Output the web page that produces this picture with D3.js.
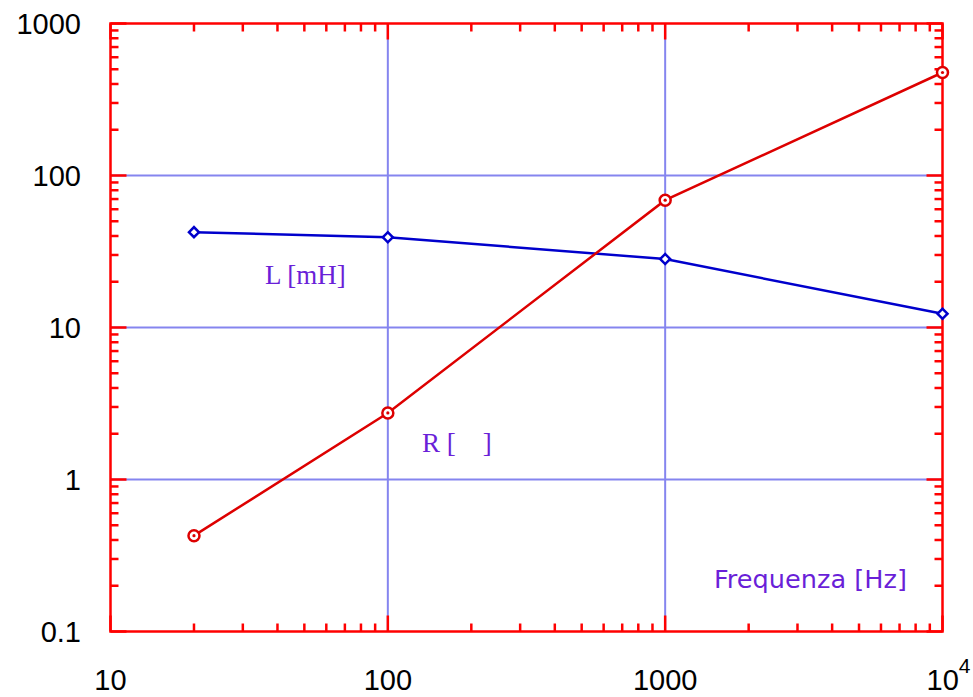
<!DOCTYPE html>
<html>
<head>
<meta charset="utf-8">
<script src="https://cdn.jsdelivr.net/npm/d3@7"></script>
<style>
  body { margin: 0; background: #fff; }
  svg { display: block; }
</style>
</head>
<body>
<svg id="chart" width="973" height="697"></svg>
<script>
// frequenze misurate e valori letti
var freq = [20, 100, 1000, 10000];
var valL = [42.4, 39.3, 28.2, 12.3];   // L [mH]
var valR = [0.427, 2.74, 68.8, 476];   // R [ohm]
var xTicks = [10, 100, 1000, 10000];
var xTickLabels = ["10", "100", "1000", "10^4"];
var yTicks = [0.1, 1, 10, 100, 1000];
var yTickLabels = ["0.1", "1", "10", "100", "1000"];

var svg = d3.select("#chart"),
    pLeft = 110.5, pRight = 942.5, pTop = 23.5, pBottom = 631.5;

var x = d3.scaleLog().domain([10, 10000]).range([pLeft, pRight]);
var y = d3.scaleLog().domain([0.1, 1000]).range([pBottom, pTop]);

var red = "#ff0000", grid = "#8585ef";

// minor ticks for a log scale
function minors(lo, hi) {
    var out = [];
    for (var d = lo; d < hi; d *= 10) {
        for (var k = 2; k <= 9; k++) out.push(d * k);
    }
    return out;
}

// griglia
svg.append("g").selectAll("line").data(xTicks.slice(1, -1)).enter().append("line")
    .attr("x1", d => x(d)).attr("x2", d => x(d))
    .attr("y1", pTop).attr("y2", pBottom)
    .attr("stroke", grid).attr("stroke-width", 2);
svg.append("g").selectAll("line").data(yTicks.slice(1, -1)).enter().append("line")
    .attr("y1", d => y(d)).attr("y2", d => y(d))
    .attr("x1", pLeft).attr("x2", pRight)
    .attr("stroke", grid).attr("stroke-width", 2);

// assi (tick verso l'interno su tutti i lati)
var ax = svg.append("g").attr("stroke", red).attr("stroke-width", 2.5);
var xm = minors(10, 10000), ym = minors(0.1, 1000);
[[pBottom, -1], [pTop, 1]].forEach(function(s) {
    ax.append("g").selectAll("line").data(xm).enter().append("line")
        .attr("x1", d => x(d)).attr("x2", d => x(d))
        .attr("y1", s[0]).attr("y2", s[0] + s[1] * 8);
    ax.append("g").selectAll("line").data(xTicks).enter().append("line")
        .attr("x1", d => x(d)).attr("x2", d => x(d))
        .attr("y1", s[0]).attr("y2", s[0] + s[1] * 16);
});
[[pLeft, 1], [pRight, -1]].forEach(function(s) {
    ax.append("g").selectAll("line").data(ym).enter().append("line")
        .attr("y1", d => y(d)).attr("y2", d => y(d))
        .attr("x1", s[0]).attr("x2", s[0] + s[1] * 8);
    ax.append("g").selectAll("line").data(yTicks).enter().append("line")
        .attr("y1", d => y(d)).attr("y2", d => y(d))
        .attr("x1", s[0]).attr("x2", s[0] + s[1] * 16);
});
ax.append("rect").attr("x", pLeft).attr("y", pTop)
    .attr("width", pRight - pLeft).attr("height", pBottom - pTop)
    .attr("fill", "none");

// etichette assi
var lab = svg.append("g").attr("font-family", "Liberation Sans, Arial, sans-serif")
    .attr("font-size", 29).attr("fill", "#000");
lab.selectAll("text.y").data(yTicks).enter().append("text")
    .attr("x", 81).attr("y", d => y(d) + 10)
    .attr("text-anchor", "end")
    .text((d, i) => yTickLabels[i]);
lab.selectAll("text.x").data(xTicks).enter().append("text")
    .attr("x", d => x(d)).attr("y", 690)
    .attr("text-anchor", "middle")
    .each(function(d, i) {
        var t = d3.select(this), s = xTickLabels[i];
        if (s.indexOf("^") > 0) {
            var p = s.split("^");
            t.attr("x", x(d) + 6);
            t.append("tspan").text(p[0]);
            t.append("tspan").attr("dy", -17).attr("font-size", 21).text(p[1]);
        } else {
            t.text(s);
        }
    });

// serie
var line = d3.line().x((d, i) => x(freq[i])).y(d => y(d));

svg.append("path").datum(valL).attr("d", line)
    .attr("fill", "none").attr("stroke", "#0000cc").attr("stroke-width", 2.5);
svg.append("g").selectAll("path").data(valL).enter().append("path")
    .attr("d", d3.symbol(d3.symbolSquare, 50))
    .attr("transform", (d, i) => "translate(" + x(freq[i]) + "," + y(d) + ") rotate(45)")
    .attr("fill", "#fff").attr("stroke", "#0000cc").attr("stroke-width", 2.5);

svg.append("path").datum(valR).attr("d", line)
    .attr("fill", "none").attr("stroke", "#dd0000").attr("stroke-width", 2.5);
var pr = svg.append("g").selectAll("g").data(valR).enter().append("g")
    .attr("transform", (d, i) => "translate(" + x(freq[i]) + "," + y(d) + ")");
pr.append("circle").attr("r", 5.5).attr("fill", "#fff")
    .attr("stroke", "#dd0000").attr("stroke-width", 2.5);
pr.append("circle").attr("r", 1.6).attr("fill", "#dd0000");

// testi
svg.append("text").attr("x", 265).attr("y", 284)
    .attr("font-family", "Liberation Serif, Times New Roman, serif")
    .attr("font-size", 27).attr("fill", "#6a1fd8").text("L [mH]");
svg.append("text").attr("x", 422).attr("y", 452)
    .attr("font-family", "Liberation Serif, Times New Roman, serif")
    .attr("font-size", 27).attr("fill", "#6a1fd8")
    .attr("xml:space", "preserve").style("white-space", "pre").text("R [    ]");
svg.append("text").attr("x", 714).attr("y", 588)
    .attr("font-family", "DejaVu Sans, Verdana, sans-serif")
    .attr("font-size", 25.6).attr("fill", "#6a1fd8").text("Frequenza [Hz]");
</script>
</body>
</html>
